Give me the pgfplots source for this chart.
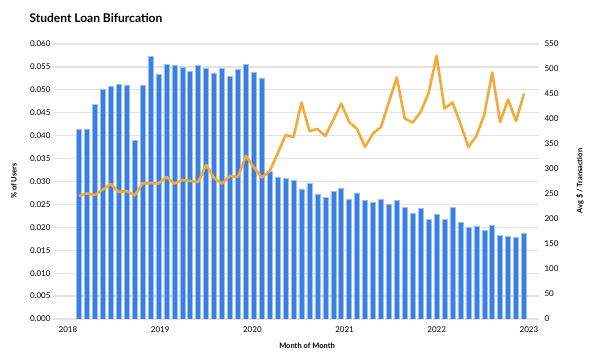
\documentclass[border=0pt]{standalone}
\usepackage{pgfplots}
\pgfplotsset{compat=1.18}
\usepackage{fontspec}
\setmainfont{Lato}
\definecolor{barblue}{HTML}{3A7FE2}
\definecolor{baredge}{HTML}{9CC0F2}
\definecolor{lineorange}{HTML}{F4AA3B}
\definecolor{gridgray}{HTML}{E3E3E3}
\begin{document}
\begin{tikzpicture}[x=1pt,y=1pt]
\path[use as bounding box] (0,0) rectangle (613,361);
\pgfplotsset{
  common/.style={
    scale only axis, width=486pt, height=275pt,
    at={(53pt,42pt)}, anchor=south west,
    xmin=-2.27, xmax=58.89,
    axis line style={draw=none},
    major tick length=0pt,
    tick label style={font=\fontsize{8}{9}\selectfont},
    /pgf/number format/assume math mode=true,
  }
}
\begin{axis}[common,
  ymin=0, ymax=0.06, ytick distance=0.005,
  scaled y ticks=false,
  yticklabel style={/pgf/number format/fixed, /pgf/number format/fixed zerofill, /pgf/number format/precision=3, xshift=1pt},
  ymajorgrids, grid style={gridgray, line width=1.3pt},
  xtick={-0.384,11.22,22.82,34.42,46.02,57.63},
  xticklabels={2018,2019,2020,2021,2022,2023},
  xticklabel style={yshift=-4pt},
]
\addplot[ybar, bar width=5.0pt, fill=barblue, draw=baredge, line width=0.5pt] coordinates {
(1,0.0413)(2,0.0415)(3,0.0468)(4,0.0502)(5,0.0507)(6,0.0512)(7,0.0511)(8,0.0389)(9,0.0511)(10,0.0573)
(11,0.0535)(12,0.0556)(13,0.0554)(14,0.0550)(15,0.0541)(16,0.0553)(17,0.0546)(18,0.0537)(19,0.0546)(20,0.0530)
(21,0.0544)(22,0.0555)(23,0.0538)(24,0.0526)(25,0.0323)(26,0.0310)(27,0.0306)(28,0.0302)(29,0.0284)(30,0.0296)
(31,0.0273)(32,0.0266)(33,0.0278)(34,0.0286)(35,0.0261)(36,0.0275)(37,0.0259)(38,0.0255)(39,0.0261)(40,0.0250)
(41,0.0259)(42,0.0243)(43,0.0231)(44,0.0241)(45,0.0217)(46,0.0229)(47,0.0217)(48,0.0244)(49,0.0211)(50,0.0200)
(51,0.0203)(52,0.0194)(53,0.0205)(54,0.0183)(55,0.0181)(56,0.0178)(57,0.0187)
};
\end{axis}
\begin{axis}[common,
  ymin=0, ymax=550, ytick distance=50,
  axis y line*=right, axis x line=none,
  yticklabel style={xshift=2pt},
]
\addplot[lineorange, line width=2.6pt, line join=round, no marks] coordinates {
(1,246)(2,251)(3,248)(4,259)(5,270)(6,254)(7,256)(8,247)(9,271)(10,272)
(11,271)(12,284)(13,271)(14,278)(15,276)(16,274)(17,308)(18,282)(19,271)(20,286)
(21,284)(22,326)(23,304)(24,283)(25,296)(26,331)(27,368)(28,364)(29,433)(30,376)
(31,380)(32,366)(33,398)(34,431)(35,394)(36,380)(37,344)(38,371)(39,384)(40,434)
(41,483)(42,401)(43,393)(44,414)(45,452)(46,526)(47,421)(48,433)(49,391)(50,344)
(51,366)(52,408)(53,493)(54,394)(55,439)(56,396)(57,451)
};
\end{axis}
\node[anchor=west, font=\fontsize{12}{14}\selectfont\bfseries] at (26,343) {Student Loan Bifurcation};
\node[rotate=90, font=\fontsize{7.5}{9}\selectfont\bfseries] at (14,180) {\% of Users};
\node[rotate=90, font=\fontsize{7.5}{9}\selectfont\bfseries] at (580,180) {Avg \$ / Transaction};
\node[font=\fontsize{7.5}{9}\selectfont\bfseries] at (307,15) {Month of Month};
\end{tikzpicture}
\end{document}
